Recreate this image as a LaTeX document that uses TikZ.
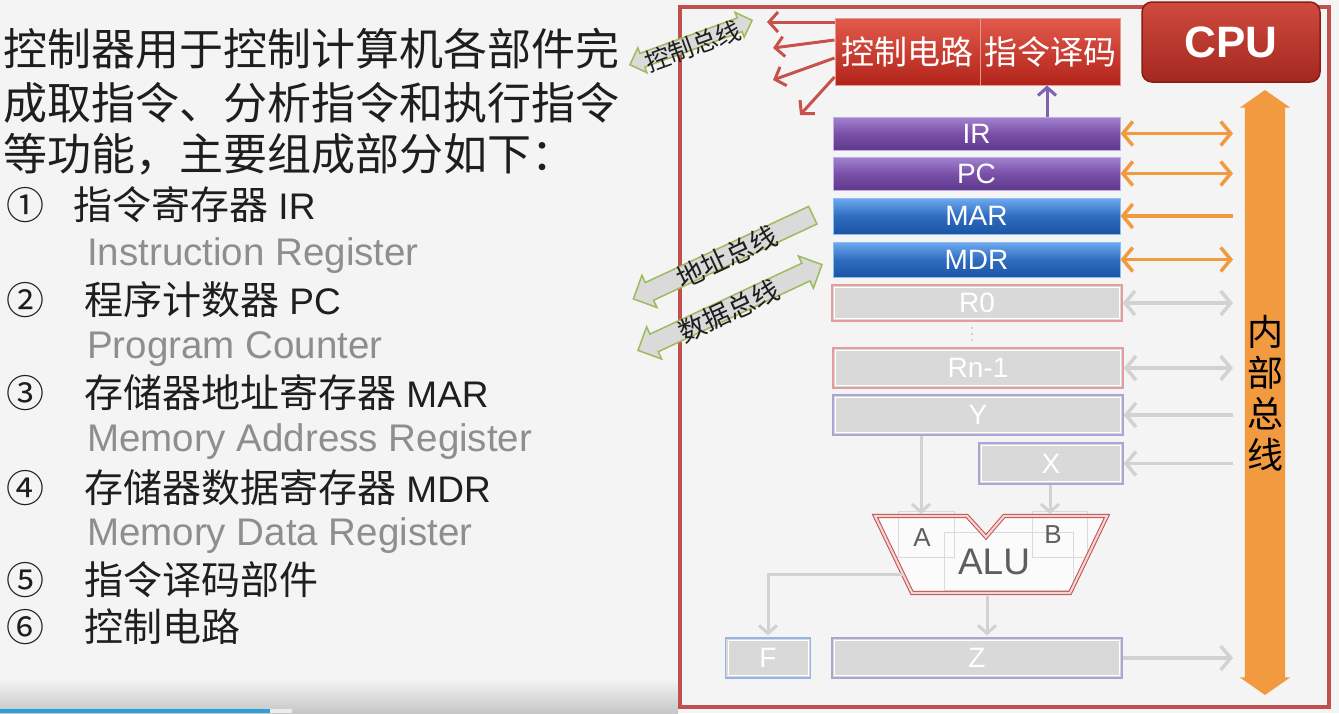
\documentclass[tikz,border=0pt]{standalone}
\usepackage{fontspec}
\setmainfont{Liberation Sans}
\newfontfamily\cjk{Noto Sans CJK SC}
\usetikzlibrary{arrows.meta,shapes.arrows}
\newcommand\myfs[2]{\fontsize{#1pt}{#2pt}\selectfont}
\definecolor{bg}{HTML}{F4F4F4}
\definecolor{framered}{HTML}{C0504D}
\definecolor{txt}{HTML}{1E1E1E}
\definecolor{engray}{HTML}{8E8E8E}
\definecolor{redtop}{HTML}{E25A4C}
\definecolor{redbot}{HTML}{B2241A}
\definecolor{redline}{HTML}{E69A94}
\definecolor{cputop}{HTML}{D04A3E}
\definecolor{cpubot}{HTML}{A3281F}
\definecolor{cpuline}{HTML}{8A1D15}
\definecolor{purtop}{HTML}{A283CF}
\definecolor{purmid}{HTML}{7A50A8}
\definecolor{purbot}{HTML}{5E3A8C}
\definecolor{purline}{HTML}{C2ABE6}
\definecolor{blutop}{HTML}{6FAAF0}
\definecolor{blumid}{HTML}{2F6DC0}
\definecolor{blubot}{HTML}{1C54A4}
\definecolor{bluline}{HTML}{8CBCF5}
\definecolor{gfill}{HTML}{D9D9D9}
\definecolor{gline}{HTML}{D2D2D2}
\definecolor{rbord}{HTML}{E59C9C}
\definecolor{pbord}{HTML}{ABA4D6}
\definecolor{bbord}{HTML}{93B4E6}
\definecolor{orng}{HTML}{F29A3F}
\definecolor{busgreen}{HTML}{9DBB5C}
\definecolor{busfill}{HTML}{DADADA}
\definecolor{alured}{HTML}{C0504D}
\definecolor{alupink}{HTML}{F3D3D3}
\definecolor{alutxt}{HTML}{5E5E5E}
\definecolor{arrred}{HTML}{C8514B}
\definecolor{arrpur}{HTML}{7D62B2}
\definecolor{progblue}{HTML}{2E9FDB}
\definecolor{boxgray}{HTML}{DADADA}
\begin{document}
\begin{tikzpicture}[x=1pt,y=-1pt,
 lt/.style={inner sep=0pt, text=txt, font=\cjk\myfs{44}{50}},
 num/.style={inner sep=0pt, text=txt, font=\cjk\myfs{38}{44}},
 item/.style={inner sep=0pt, text=txt, font=\myfs{37}{44}},
 eng/.style={inner sep=0pt, text=engray, font=\myfs{38.5}{44}},
 redbox/.style={inner sep=0pt, minimum height=67pt, top color=redtop, bottom color=redbot, draw=redline, line width=1pt, text=white, font=\cjk\myfs{33}{36}},
 cpubox/.style={inner sep=0pt, rounded corners=10pt, minimum width=178pt, minimum height=80pt, top color=cputop, bottom color=cpubot, draw=cpuline, line width=1.5pt, text=white, font=\bfseries\myfs{44}{50}},
 regtxt/.style={inner sep=0pt, text=white, font=\myfs{28}{30}},
 purreg/.style={regtxt, top color=purtop, bottom color=purbot, middle color=purmid, draw=purline, line width=1pt},
 blureg/.style={regtxt, top color=blutop, bottom color=blubot, middle color=blumid, draw=bluline, line width=1pt},
 greg/.style={regtxt, fill=gfill, draw=#1, line width=1.3pt,
   path picture={\draw[white, line width=1pt] ([shift={(2.5pt,2.5pt)}]path picture bounding box.south west) rectangle ([shift={(-2.5pt,-2.5pt)}]path picture bounding box.north east);}},
 orarr/.style={draw=orng, line width=3.5pt, >={Straight Barb[length=10pt,width=24pt]}},
 garr/.style={draw=gline, line width=3.5pt, >={Straight Barb[length=10pt,width=24pt]}},
 gdown/.style={draw=gline, line width=3pt, >={Straight Barb[length=8pt,width=18pt]}},
 rarr/.style={draw=arrred, line width=3pt, >={Straight Barb[length=9pt,width=20pt]}},
 parr/.style={draw=arrpur, line width=3pt, >={Straight Barb[length=8pt,width=18pt]}},
 busarr/.style={fill=busfill, draw=busgreen, line width=1.5pt, inner xsep=0pt},
 bustxt/.style={inner sep=0pt, text=txt, font=\cjk\myfs{25}{28}},
 alulbl/.style={inner sep=0pt, text=alutxt, font=\myfs{26}{30}}
]
\useasboundingbox (0,0) rectangle (1339,713);
\fill[bg] (0,0) rectangle (1339,713);
\shade[top color=bg, bottom color=black!22] (0,678) rectangle (678,713);
\fill[progblue] (0,709) rectangle (270,713);
\fill[white!85!gray] (270,709) rectangle (292,713);

% ---------- left text ----------
\node[lt, anchor=west] (l1) at (3,49) {控制器用于控制计算机各部件完};
\node[lt, anchor=west] (l2) at (3,103) {成取指令、分析指令和执行指令};
\node[lt, anchor=west] (l3) at (3,154) {等功能，主要组成部分如下：};

\node[num] (n1) at (25.5,205) {①};
\node[item, anchor=west] (t1) at (73,205) {{\cjk\myfs{39}{44}指令寄存器} IR};
\node[eng, anchor=base west] (e1) at (87,265) {Instruction Register};
\node[num] (n2) at (25.5,300) {②};
\node[item, anchor=west] (t2) at (84,300) {{\cjk\myfs{39}{44}程序计数器} PC};
\node[eng, anchor=base west] (e2) at (87,358) {Program Counter};
\node[num] (n3) at (25.5,393) {③};
\node[item, anchor=west] (t3) at (84,393) {{\cjk\myfs{39}{44}存储器地址寄存器} MAR};
\node[eng, anchor=base west] (e3) at (87,451) {Memory Address Register};
\node[num] (n4) at (25.5,488) {④};
\node[item, anchor=west] (t4) at (84,488) {{\cjk\myfs{39}{44}存储器数据寄存器} MDR};
\node[eng, anchor=base west] (e4) at (87,545) {Memory Data Register};
\node[num] (n5) at (25.5,580) {⑤};
\node[item, anchor=west] (t5) at (84,580) {{\cjk\myfs{39}{44}指令译码部件}};
\node[num] (n6) at (25.5,627) {⑥};
\node[item, anchor=west] (t6) at (84,627) {{\cjk\myfs{39}{44}控制电路}};

% ---------- CPU frame ----------
\node[draw=framered, line width=4pt, minimum width=649pt, minimum height=700pt, inner sep=0pt] (frame) at (1004.5,357) {};

% ---------- external buses ----------
\node[busarr, double arrow, rotate=20, minimum height=130pt, inner ysep=6.5pt, double arrow head extend=6pt] (cbus) at (691,42.5) {};
\node[bustxt, rotate=20] (cbust) at (693,46) {控制总线};
\node[busarr, single arrow, shape border rotate=180, rotate=25, minimum height=198pt, inner ysep=9pt, single arrow head extend=8pt] (abus) at (727.5,255) {};
\node[bustxt, rotate=25, font=\cjk\myfs{27}{30}] (abust) at (727,257) {地址总线};
\node[busarr, double arrow, rotate=25, minimum height=203pt, inner ysep=9pt, double arrow head extend=8pt] (dbus) at (730,307.5) {};
\node[bustxt, rotate=25, font=\cjk\myfs{27}{30}] (dbust) at (729,311) {数据总线};

% ---------- control unit ----------
\node[redbox, minimum width=145pt] (ctrl) at (907.5,51.5) {控制电路};
\node[redbox, minimum width=140pt] (dec) at (1050,51.5) {指令译码};
\node[cpubox] (cpu) at (1231,42) {CPU};

\coordinate (c1) at (767,22);
\coordinate (c2) at (773,48);
\coordinate (c3) at (773,80);
\coordinate (c4) at (800,115);
\draw[rarr,->] (ctrl.west |- 0,22) -- (c1);
\draw[rarr,->] (ctrl.west |- 0,40) -- (c2);
\draw[rarr,->] (ctrl.west |- 0,58) -- (c3);
\draw[rarr,->] (ctrl.west |- 0,77) -- (c4);

% ---------- registers ----------
\node[purreg, minimum width=287pt, minimum height=33pt] (IR) at (976.5,133.5) {IR};
\node[purreg, minimum width=287pt, minimum height=33pt] (PC) at (976.5,173.5) {PC};
\node[blureg, minimum width=287pt, minimum height=36pt] (MAR) at (976.5,216) {MAR};
\node[blureg, minimum width=287pt, minimum height=35pt] (MDR) at (976.5,259.5) {MDR};
\node[greg=rbord, minimum width=290pt, minimum height=36pt] (R0) at (977,303) {R0};
\node[greg=rbord, minimum width=290pt, minimum height=40pt] (Rn) at (978,368) {Rn-1};
\node[greg=pbord, minimum width=290pt, minimum height=40pt] (Y) at (978,415) {Y};
\node[greg=pbord, minimum width=144pt, minimum height=41pt] (X) at (1051,463.5) {X};
\node[greg=bbord, minimum width=85pt, minimum height=40pt] (F) at (768,658) {F};
\node[greg=pbord, minimum width=290pt, minimum height=40pt] (Z) at (977,658) {Z};

\coordinate (pu) at (1047,100);
\draw[parr,->] (IR.north -| pu) -- (dec.south -| pu);
\coordinate (dt) at (972,0);
\draw[gline, line width=2pt, dash pattern=on 2pt off 4pt] ([yshift=-5pt]R0.south -| dt) -- ([yshift=4pt]Rn.north -| dt);

% ---------- internal bus ----------
\node[fill=orng, double arrow, rotate=90, minimum height=605pt, inner ysep=20pt, inner xsep=0pt, double arrow head extend=5pt, double arrow tip angle=110] (bus) at (1265,392.5) {};
\node[font=\cjk\myfs{36}{41}, align=center, text=black, inner sep=0pt] (bustx) at (1265,393) {内\\部\\总\\线};
\coordinate (bx) at (1233,0);

\draw[orarr,<->] (IR.east) -- (IR.east -| bx);
\draw[orarr,<->] (PC.east) -- (PC.east -| bx);
\draw[orarr,<-] (MAR.east) -- (MAR.east -| bx);
\draw[orarr,<->] (MDR.east) -- (MDR.east -| bx);
\draw[garr,<->] (R0.east) -- (R0.east -| bx);
\draw[garr,<->] (Rn.east) -- (Rn.east -| bx);
\draw[garr,<-] (Y.east) -- (Y.east -| bx);
\draw[garr,<-] (X.east) -- (X.east -| bx);
\draw[garr,->] (Z.east) -- (Z.east -| bx);

% ---------- ALU ----------
\fill[white!60!bg] (875,516) -- (967,516) -- (986,537) -- (1004,516) -- (1107,516) -- (1070,593) -- (912,593) -- cycle;
\draw[boxgray, line width=0.8pt] (898,511) rectangle (954,557);
\draw[boxgray, line width=0.8pt] (1032,511) rectangle (1087,557);
\draw[boxgray, line width=0.8pt] (944,532) rectangle (1073,590);
\draw[alured, line width=1pt, double=alupink, double distance=2.2pt, line join=miter] (875,516) -- (967,516) -- (986,537) -- (1004,516) -- (1107,516) -- (1070,593) -- (912,593) -- cycle;
\node[alulbl] (A) at (922,538) {A};
\node[alulbl] (B) at (1053,535) {B};
\node[alulbl, font=\myfs{37}{40}] (alu) at (994,562) {ALU};

\coordinate (aluA) at (921,514);
\coordinate (aluB) at (1050,514);
\coordinate (aluL) at (903,574);
\coordinate (aluD) at (987,596);
\draw[gdown,->] (Y.south -| aluA) -- (aluA);
\draw[gdown,->] (X.south -| aluB) -- (aluB);
\draw[gdown,->] (aluL) -| ([yshift=2pt]F.north);
\draw[gdown,->] (aluD) -- ([yshift=2pt]aluD |- Z.north);
\end{tikzpicture}
\end{document}
